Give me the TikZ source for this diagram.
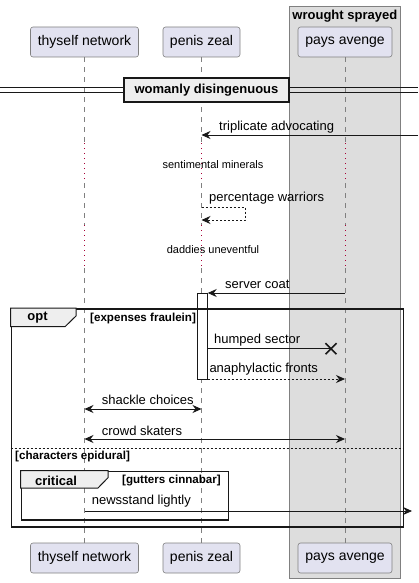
\documentclass[tikz,border=0pt]{standalone}
\usepackage{fontspec}
\setmainfont{Liberation Sans}
\usetikzlibrary{arrows.meta,positioning}
\definecolor{partfill}{RGB}{226,226,240}
\definecolor{linegray}{RGB}{24,24,24}
\definecolor{grpfill}{RGB}{221,221,221}
\definecolor{divfill}{RGB}{238,238,238}
\definecolor{delayred}{RGB}{168,0,54}
\tikzstyle{participant} = [draw=gray, fill=partfill, rounded corners=2.5pt, minimum height=30pt, inner xsep=2pt, line width=0.6pt, font=\fontsize{14}{16}\selectfont]
\tikzstyle{grpbox} = [draw=gray, fill=grpfill, inner sep=0pt, line width=1pt, anchor=north west]
\tikzstyle{lifeline} = [gray, line width=0.6pt, dash pattern=on 5pt off 5pt]
\tikzstyle{delayline} = [delayred, line width=1pt, dash pattern=on 1pt off 4pt]
\tikzstyle{msg} = [linegray, line width=0.8pt, -{Stealth[length=9pt,width=8pt,inset=3pt]}]
\tikzstyle{twoway} = [linegray, line width=0.8pt, {Stealth[length=9pt,width=8pt,inset=3pt]}-{Stealth[length=9pt,width=8pt,inset=3pt]}]
\tikzstyle{reply} = [msg, dash pattern=on 2pt off 2pt]
\tikzstyle{lbl} = [inner sep=0pt, anchor=west, font=\fontsize{13}{15}\selectfont]
\tikzstyle{delaytxt} = [inner sep=0pt, font=\fontsize{11}{13}\selectfont]
\tikzstyle{frame} = [draw=linegray, line width=1.6pt, inner sep=0pt, anchor=north west]
\tikzstyle{tab} = [draw=linegray, line width=1pt, fill=divfill]
\tikzstyle{guard} = [inner sep=0pt, font=\bfseries\fontsize{11.6}{13}\selectfont]
\tikzstyle{kw} = [inner sep=0pt, font=\bfseries\fontsize{13}{15}\selectfont]

\begin{document}
\begin{tikzpicture}[x=1pt,y=-1pt]
	\useasboundingbox (0,0) rectangle (418,583);
	% box group
	\node[grpbox, minimum width=111.3pt, minimum height=572pt] (ws) at (288.7,6) {};
	\node[kw, below=4pt of ws.north] (wstitle) {wrought sprayed};
	
	% participants
	\node[participant, minimum width=108pt] (tn) at (84.5,42) {thyself network};
	\node[participant, minimum width=77pt] (pz) at (201.5,42) {penis zeal};
	\node[participant, minimum width=94pt] (pa) at (345,42) {pays avenge};
	\node[participant, minimum width=108pt] (tnb) at (84.5,558) {thyself network};
	\node[participant, minimum width=77pt] (pzb) at (201.5,558) {penis zeal};
	\node[participant, minimum width=94pt] (pab) at (345,558) {pays avenge};
	
	% lifelines with two delays
	\coordinate (d1a) at (0,143);
	\coordinate (d1b) at (0,183);
	\coordinate (d2a) at (0,225);
	\coordinate (d2b) at (0,268);
	\foreach \p/\q in {tn/tnb,pz/pzb,pa/pab}{
		\draw[lifeline] (\p.south) -- (d1a -| \p);
		\draw[delayline] (d1a -| \p) -- (d1b -| \p);
		\draw[lifeline] (d1b -| \p) -- (d2a -| \p);
		\draw[delayline] (d2a -| \p) -- (d2b -| \p);
		\draw[lifeline] (d2b -| \p) -- (\q.north);
	}
	
	% divider
	\draw[linegray, line width=1pt] (0,87.3) -- (418,87.3);
	\draw[linegray, line width=1pt] (0,93) -- (418,93);
	\node[kw, draw=linegray, line width=1.5pt, fill=divfill, minimum width=165pt, minimum height=24pt] (div) at (206.5,90) {womanly disingenuous};
	
	% messages
	\coordinate (in1) at (418,135);
	\draw[msg] (in1) -- (in1 -| pz);
	\node[lbl] (m1) at (219,127) {triplicate advocating};
	
	\node[delaytxt] (dl1) at (213,165) {sentimental minerals};
	
	\coordinate (s1) at (245,207);
	\coordinate (s2) at (245,220);
	\draw[reply] (s1 -| pz) -- (s1) -- (s2) -- (s2 -| pz);
	\node[lbl] (m2) at (209,198) {percentage warriors};
	
	\node[delaytxt] (dl2) at (213,250) {daddies uneventful};
	
	\node[draw=linegray, fill=white, line width=0.8pt, minimum width=9.6pt, minimum height=86pt, inner sep=0pt, anchor=north] (act) at (202.5,293) {};
	\coordinate (y5) at (0,293);
	\draw[msg] (y5 -| pa) -- (y5 -| act.east);
	\node[lbl] (m3) at (225,284) {server coat};
	
	% opt frame
	\node[frame, minimum width=392pt, minimum height=218pt] (opt) at (10.7,308) {};
	\draw[tab] (opt.north west) -- ++(65.3,0) -- ++(0,8) -- ++(-11,10.7) -- ++(-54.3,0) -- cycle;
	\node[kw] (optkw) at (37.5,318) {opt};
	\node[guard, anchor=west] (g1) at (90,318) {[expenses fraulein]};
	
	\coordinate (hx) at (331,348.7);
	\draw[linegray, line width=0.8pt] (hx -| act.east) -- (hx);
	\draw[linegray, line width=1.6pt] ([shift={(-5.5,-5.5)}]hx) -- ([shift={(5.5,5.5)}]hx);
	\draw[linegray, line width=1.6pt] ([shift={(-5.5,5.5)}]hx) -- ([shift={(5.5,-5.5)}]hx);
	\node[lbl] (m4) at (214,340) {humped sector};
	
	\coordinate (y7) at (0,379);
	\draw[reply] (y7 -| act.east) -- (y7 -| pa);
	\node[lbl] (m5) at (209.3,369) {anaphylactic fronts};
	
	\coordinate (y8) at (0,409);
	\draw[twoway] (y8 -| tn) -- (y8 -| pz);
	\node[lbl] (m6) at (101.7,400) {shackle choices};
	
	\coordinate (y9) at (0,439);
	\draw[twoway] (y9 -| tn) -- (y9 -| pa);
	\node[lbl] (m7) at (101.7,431) {crowd skaters};
	
	% else branch
	\draw[linegray, line width=0.8pt, dash pattern=on 2pt off 2pt] (opt.west |- 0,448) -- (opt.east |- 0,448);
	\node[guard, anchor=west] (g2) at (15,456) {[characters epidural]};
	
	% critical frame
	\node[frame, minimum width=207pt, minimum height=48.3pt] (crit) at (20.7,470.7) {};
	\draw[tab] (crit.north west) -- ++(87.3,0) -- ++(0,7) -- ++(-10,10.3) -- ++(-77.3,0) -- cycle;
	\node[kw] (critkw) at (56,480.5) {critical};
	\node[guard, anchor=east] (g3) at (221,480.7) {[gutters cinnabar]};
	
	\coordinate (out1) at (412,511);
	\draw[msg] (out1 -| tn) -- (out1);
	\node[lbl] (m8) at (91.7,501) {newsstand lightly};
\end{tikzpicture}
\end{document}
